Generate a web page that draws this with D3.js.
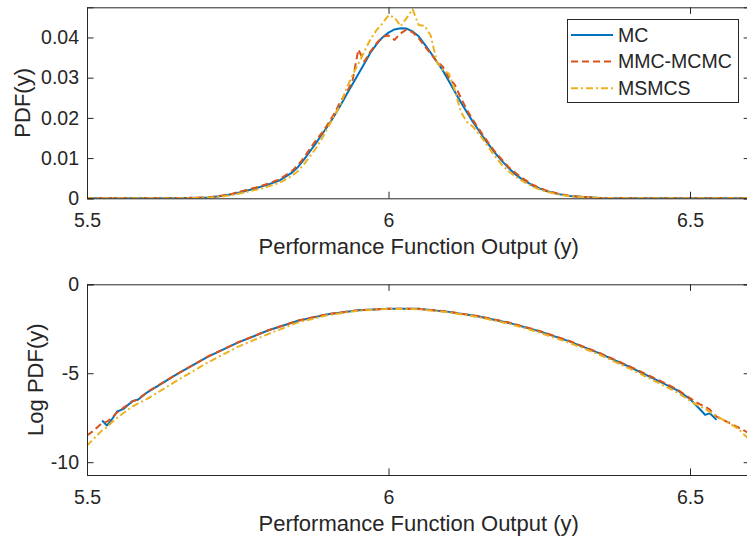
<!DOCTYPE html>
<html><head><meta charset="utf-8">
<script src="https://cdn.jsdelivr.net/npm/d3@7"></script>
<style>
html,body{margin:0;padding:0;background:#fff;}
svg text{font-family:"Liberation Sans",Arial,Helvetica,sans-serif;fill:#262626;}
</style></head>
<body><svg id="c" width="747" height="542"></svg>
<script>
// ---------- data ----------
const seriesNames = ["MC","MMC-MCMC","MSMCS"];
const seriesColors = ["#0072BD","#D95319","#EDB120"];
const seriesDash = [null,"7,4","7,3,2,3"];

const xTop = [5.50,5.60,5.65,5.70,5.72,5.74,5.76,5.78,5.80,5.82,5.84,5.85,5.86,5.87,5.88,5.89,5.90,5.91,5.92,5.93,5.94,5.95,5.96,5.97,5.98,5.99,6.00,6.01,6.02,6.03,6.04,6.05,6.06,6.07,6.08,6.09,6.10,6.11,6.12,6.13,6.14,6.15,6.16,6.17,6.18,6.19,6.20,6.21,6.22,6.24,6.26,6.28,6.30,6.35,6.40,6.50,6.60];
const mcTop = [0,0,0.00002,0.0002,0.0005,0.0010,0.0017,0.0025,0.0034,0.0045,0.0064,0.0078,0.0097,0.0117,0.0138,0.0160,0.0181,0.0205,0.0230,0.0257,0.0283,0.0309,0.0335,0.0362,0.0383,0.0400,0.0412,0.0420,0.0423,0.0422,0.0415,0.0403,0.0383,0.0362,0.0340,0.0318,0.0292,0.0265,0.0239,0.0214,0.0190,0.0168,0.0146,0.0126,0.0107,0.0090,0.0074,0.0060,0.0049,0.0031,0.0019,0.0011,0.0006,0.0001,0.00002,0,0];
const mmcTop = [0,0,0.00002,0.0002,0.0006,0.0011,0.0019,0.0027,0.0036,0.0048,0.0068,0.0083,0.0101,0.0124,0.0145,0.0163,0.0186,0.0210,0.0240,0.0262,0.0290,0.0370,0.0340,0.0365,0.0385,0.0402,0.0405,0.0394,0.0410,0.0420,0.0413,0.0398,0.0378,0.0360,0.0340,0.0328,0.0300,0.0282,0.0250,0.0220,0.0195,0.0172,0.0150,0.0128,0.0110,0.0093,0.0076,0.0064,0.0052,0.0033,0.0020,0.0012,0.0006,0.0001,0.00002,0,0];
const msTop = [0,0,0.00001,0.00015,0.0004,0.0008,0.0014,0.0021,0.0029,0.0039,0.0056,0.0068,0.0085,0.0105,0.0125,0.0150,0.0178,0.0205,0.0232,0.0272,0.0305,0.0335,0.0365,0.0395,0.0418,0.0435,0.0455,0.0450,0.0428,0.0448,0.0470,0.0431,0.0429,0.0405,0.0340,0.0319,0.0310,0.0269,0.0215,0.0190,0.0178,0.0160,0.0140,0.0118,0.0098,0.0080,0.0066,0.0055,0.0045,0.0028,0.0017,0.0010,0.0005,0.0001,0.00001,0,0];

const xBot = [5.50,5.51,5.52,5.525,5.533,5.54,5.55,5.56,5.575,5.585,5.60,5.65,5.70,5.75,5.80,5.85,5.90,5.95,6.00,6.05,6.10,6.15,6.20,6.25,6.30,6.35,6.40,6.45,6.48,6.50,6.51,6.52,6.525,6.533,6.544,6.56,6.58,6.60];
const mcBot = [null,null,null,-7.66,-7.94,-7.66,-7.15,-7.02,-6.57,-6.48,-6.07,-5.04,-4.08,-3.28,-2.60,-2.05,-1.68,-1.46,-1.37,-1.38,-1.55,-1.81,-2.17,-2.64,-3.21,-3.88,-4.65,-5.47,-5.98,-6.45,-6.80,-7.15,-7.34,-7.25,-7.62,null,null,null];
const mmcBot = [-8.50,-8.25,-7.95,-7.80,-7.72,-7.55,-7.20,-6.95,-6.60,-6.45,-6.05,-5.03,-4.07,-3.27,-2.59,-2.04,-1.67,-1.46,-1.37,-1.38,-1.54,-1.80,-2.15,-2.62,-3.19,-3.86,-4.62,-5.42,-5.93,-6.40,-6.62,-6.80,-6.88,-7.05,-7.44,-7.70,-8.05,-8.40];
const msBot = [-9.07,-8.72,-8.38,-8.22,-8.03,-7.80,-7.50,-7.25,-6.88,-6.70,-6.44,-5.40,-4.40,-3.52,-2.80,-2.14,-1.73,-1.48,-1.38,-1.40,-1.58,-1.85,-2.22,-2.71,-3.29,-3.96,-4.74,-5.58,-6.10,-6.55,-6.75,-6.92,-7.00,-7.18,-7.40,-7.72,-8.12,-8.78];

const xTicks = [5.5,6,6.5];
const yTopTicks = [0,0.01,0.02,0.03,0.04];
const yBotTicks = [-10,-5,0];
const xLabel = "Performance Function Output (y)";
const yTopLabel = "PDF(y)";
const yBotLabel = "Log PDF(y)";

// ---------- drawing ----------
const svg = d3.select("#c");
const axColor = "#262626";
const tickFs = 19.5, labelFs = 22;

function panel(cfg){
  const {top,bottom,left,right,yDomain,yTicks,yFmt,xs,ys,id,ylabel,ylabelX} = cfg;
  const x = d3.scaleLinear().domain([5.5,6.6]).range([left,right]);
  const y = d3.scaleLinear().domain(yDomain).range([bottom,top]);
  const g = svg.append("g");
  svg.append("clipPath").attr("id",id).append("rect")
    .attr("x",left).attr("y",top).attr("width",right-left).attr("height",bottom-top);
  const lines = g.append("g").attr("clip-path",`url(#${id})`);
  ys.forEach((arr,i)=>{
    const line = d3.line().defined((d,j)=>arr[j]!==null).x((d,j)=>x(xs[j])).y((d,j)=>y(arr[j]));
    lines.append("path").datum(arr).attr("d",line)
      .attr("fill","none").attr("stroke",seriesColors[i]).attr("stroke-width",2)
      .attr("stroke-linejoin","round")
      .attr("stroke-dasharray",seriesDash[i]);
  });
  const tl = 6.6;
  const ax = g.append("g");
  ax.append("g").attr("transform",`translate(0,${bottom})`)
    .call(d3.axisBottom(x).tickValues(xTicks).tickSize(-tl).tickPadding(15).tickFormat(d3.format("")));
  ax.append("g").attr("transform",`translate(0,${top})`)
    .call(d3.axisTop(x).tickValues(xTicks).tickSize(-tl).tickFormat(""));
  ax.append("g").attr("transform",`translate(${left},0)`)
    .call(d3.axisLeft(y).tickValues(yTicks).tickSize(-tl).tickPadding(8).tickFormat(yFmt));
  ax.append("g").attr("transform",`translate(${right},0)`)
    .call(d3.axisRight(y).tickValues(yTicks).tickSize(-tl).tickFormat(""));
  ax.selectAll("path.domain").attr("stroke",axColor).attr("stroke-width",1);
  ax.selectAll(".tick line").attr("stroke",axColor).attr("stroke-width",1);
  ax.selectAll(".tick text").attr("font-size",tickFs).attr("fill",axColor)
    .style("font-family","'Liberation Sans',Arial,sans-serif");
  svg.append("text").attr("x",(left+right)/2).attr("y",bottom+56)
    .attr("text-anchor","middle").attr("font-size",labelFs).text(xLabel);
  svg.append("text").attr("transform",`translate(${ylabelX},${(top+bottom)/2}) rotate(-90)`)
    .attr("text-anchor","middle").attr("font-size",labelFs).text(ylabel);
  return {x,y};
}

panel({top:7.3,bottom:198.3,left:87,right:750.3,yDomain:[0,0.0475],yTicks:yTopTicks,
  yFmt:d=>d===0?"0":d3.format(".2f")(d),xs:xTop,ys:[mcTop,mmcTop,msTop],id:"cp1",ylabel:yTopLabel,ylabelX:30});
panel({top:284.3,bottom:475,left:87,right:750.3,yDomain:[-10.72,0],yTicks:yBotTicks,
  yFmt:d=>d3.format("d")(d).replace("−","-"),xs:xBot,ys:[mcBot,mmcBot,msBot],id:"cp2",ylabel:yBotLabel,ylabelX:43});

// legend
const lg = svg.append("g");
lg.append("rect").attr("x",567.5).attr("y",19.5).attr("width",171).attr("height",83)
  .attr("fill","#fff").attr("stroke",axColor).attr("stroke-width",1);
seriesNames.forEach((n,i)=>{
  const cy = 35 + i*26.6;
  lg.append("line").attr("x1",571).attr("x2",613).attr("y1",cy).attr("y2",cy)
    .attr("stroke",seriesColors[i]).attr("stroke-width",2).attr("stroke-dasharray",seriesDash[i]);
  lg.append("text").attr("x",618).attr("y",cy).attr("dy","0.35em").attr("font-size",tickFs).text(n);
});
</script></body></html>
